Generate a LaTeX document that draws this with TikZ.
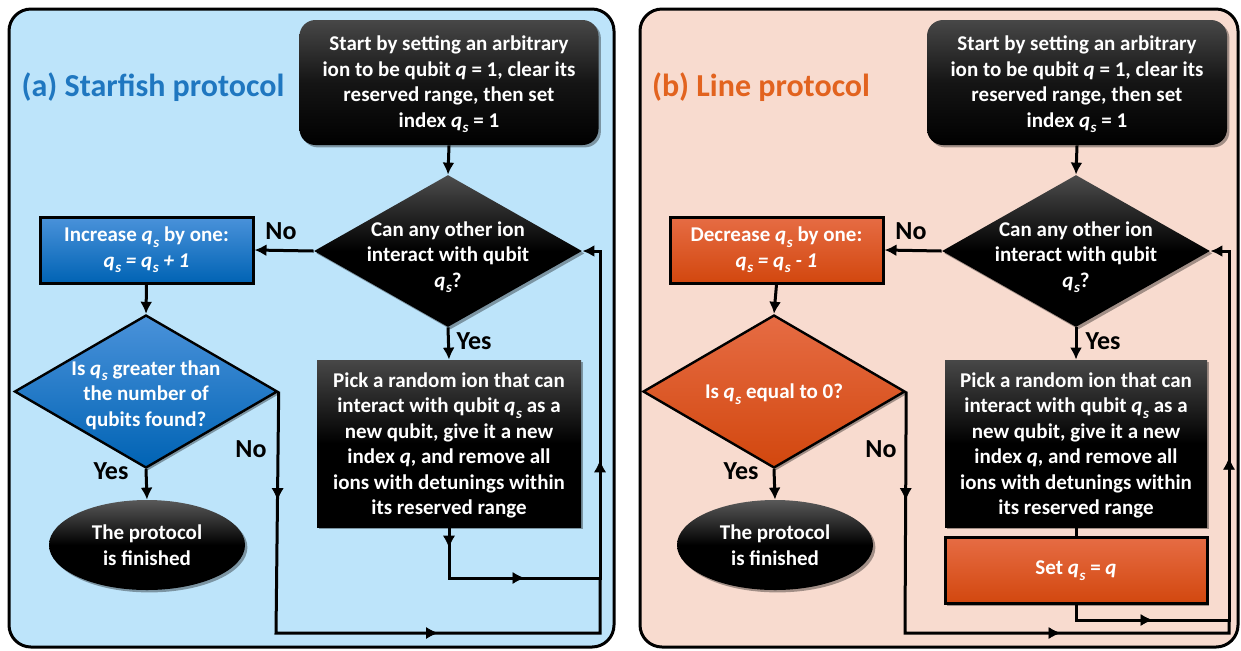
\documentclass[tikz,border=0pt]{standalone}
\usepackage{fontspec}
\setmainfont{Carlito}
\usetikzlibrary{shapes.geometric,arrows.meta,decorations.markings,shadows}
\definecolor{panelblue}{HTML}{BDE4FA}
\definecolor{panelpink}{HTML}{F8DBCF}
\definecolor{titleblue}{HTML}{1F77C0}
\definecolor{titleorange}{HTML}{E2631F}
\definecolor{blueT}{HTML}{4A92DA}
\definecolor{blueB}{HTML}{0063B4}
\definecolor{orT}{HTML}{E66C44}
\definecolor{orB}{HTML}{D2470E}
\newcommand{\qsub}{\textit{q}\kern0.3pt\raisebox{-0.55ex}{\fontsize{7.5}{7.5}\selectfont\textit{s}}}
\begin{document}
\begin{tikzpicture}[x=0.5pt,y=-0.5pt,
  every node/.style={font=\fontsize{10.5}{12.75}\selectfont\bfseries},
  panel/.style={draw=black,line width=1.5pt,rounded corners=11pt},
  shadowed/.style={drop shadow={shadow xshift=1.2pt,shadow yshift=-1.2pt,opacity=0.35,fill=black}},
  blackbox/.style={shadowed,top color=black!72,bottom color=black,middle color=black,text=white,align=center,inner sep=0pt},
  colbox/.style={shadowed,draw=black,line width=1.5pt,text=white,align=center,inner sep=0pt},
  bluefill/.style={top color=blueT,bottom color=blueB},
  orfill/.style={top color=orT,bottom color=orB},
  dia/.style={diamond,inner sep=0pt,shadowed},
  lbl/.style={font=\fontsize{13}{15}\selectfont\bfseries,text=black},
  ttl/.style={font=\fontsize{16}{19}\selectfont\bfseries},
  txt/.style={text=white,align=center,inner sep=0pt},
  conn/.style={draw=black,line width=1.5pt,line join=miter},
  tip/.style={-{Latex[length=6pt,width=6pt]}},
  midarr/.style={decorate,decoration={markings,mark=at position #1 with {\arrow{Latex[length=6pt,width=6pt]}}}}
]
\useasboundingbox (0,0) rectangle (1241,650);
% panels
\draw[panel,fill=panelblue] (9,9) rectangle (614,647);
\draw[panel,fill=panelpink] (640,9) rectangle (1238,647);

% ===== Left panel =====
\node[ttl,text=titleblue] (ta) at (153,87) {(a) Starfish protocol};
\node[blackbox,rounded corners=8pt,minimum width=149.5pt,minimum height=62.5pt,middle color=black!92] (sa) at (449,82.5) {};
\node[txt] (sat) at (449,84.5) {Start by setting an arbitrary\\ion to be qubit \textit{q} = 1, clear its\\reserved range, then set\\index \qsub{} = 1};
\node[dia,minimum width=134pt,minimum height=76pt,top color=black!70,bottom color=black,middle color=black] (da1) at (448,251) {};
\node[txt] (da1t) at (448,257) {Can any other ion\\interact with qubit\\\qsub?};
\node[colbox,bluefill,minimum width=106.5pt,minimum height=33pt] (ia) at (146.5,250) {Increase \qsub{} by one:\\\textit{\qsub{} = \qsub{} + 1}};
\node[dia,draw=black,line width=1.2pt,bluefill,minimum width=131.5pt,minimum height=76.5pt] (da2) at (146,391.5) {};
\node[txt] (da2t) at (146,395) {Is \qsub{} greater than\\the number of\\qubits found?};
\node[ellipse,shadowed,top color=black!65,bottom color=black,middle color=black,minimum width=98pt,minimum height=45pt,inner sep=0pt,text=white,align=center] (ea) at (147,545) {The protocol\\is finished};
\node[blackbox,minimum width=132pt,minimum height=83.5pt] (pa) at (449,443.5) {};
\node[txt] (pat) at (449,445.5) {Pick a random ion that can\\interact with qubit \qsub{} as a\\new qubit, give it a new\\index \textit{q}, and remove all\\ions with detunings within\\its reserved range};
\node[lbl] (na1) at (281,231) {No};
\node[lbl] (ya1) at (474,341) {Yes};
\node[lbl] (ya2) at (111,471) {Yes};
\node[lbl] (na2) at (251,449) {No};
\coordinate (a1) at (449,578);
\coordinate (a2) at (600,578);
\coordinate (a3) at (600,251);
\coordinate (a4) at (276,633);
\coordinate (a5) at (600,633);

\draw[conn,tip] (sa.south) -- (da1.north);
\draw[conn,tip] (da1.west) -- (ia.east);
\draw[conn,tip] (ia.south) -- (da2.north);
\draw[conn,tip] (da2.south) -- (ea.north);
\draw[conn,tip] (da1.south) -- (pa.north);
\draw[conn,tip] (pa.south) -- (a1) -- (a2) -- (a3) -- (da1.east);
\draw[conn] (da2.east) -- (a4) -- (a5) -- (a2);
\path[midarr=0.4] (pa.south) -- (a1);
\path[midarr=0.5] (a1) -- (a2);
\path[midarr=0.36] (a2) -- (a3);
\path[midarr=0.45] (da2.east) -- (a4);
\path[midarr=0.5] (a4) -- (a5);

% ===== Right panel =====
\node[ttl,text=titleorange] (tb) at (761,87) {(b) Line protocol};
\node[blackbox,rounded corners=8pt,minimum width=150pt,minimum height=62.5pt,middle color=black!92] (sb) at (1077,82.5) {};
\node[txt] (sbt) at (1077,84.5) {Start by setting an arbitrary\\ion to be qubit \textit{q} = 1, clear its\\reserved range, then set\\index \qsub{} = 1};
\node[dia,minimum width=134pt,minimum height=76pt,top color=black!70,bottom color=black,middle color=black] (db1) at (1076,251) {};
\node[txt] (db1t) at (1076,257) {Can any other ion\\interact with qubit\\\qsub?};
\node[colbox,orfill,minimum width=106.5pt,minimum height=33pt] (ib) at (776.5,250) {Decrease \qsub{} by one:\\\textit{\qsub{} = \qsub{} - 1}};
\node[dia,draw=black,line width=1.2pt,orfill,minimum width=131pt,minimum height=76.5pt] (db2) at (774,391.5) {};
\node[txt] (db2t) at (774,394) {Is \qsub{} equal to 0?};
\node[ellipse,shadowed,top color=black!65,bottom color=black,middle color=black,minimum width=98pt,minimum height=45pt,inner sep=0pt,text=white,align=center] (eb) at (775,545) {The protocol\\is finished};
\node[blackbox,minimum width=131pt,minimum height=83.5pt] (pb) at (1076,443.5) {};
\node[txt] (pbt) at (1076,445.5) {Pick a random ion that can\\interact with qubit \qsub{} as a\\new qubit, give it a new\\index \textit{q}, and remove all\\ions with detunings within\\its reserved range};
\node[colbox,orfill,minimum width=131pt,minimum height=33pt] (setb) at (1076,570.5) {Set \qsub{} = \textit{q}};
\node[lbl] (nb1) at (911,231) {No};
\node[lbl] (yb1) at (1103,341) {Yes};
\node[lbl] (yb2) at (741,471) {Yes};
\node[lbl] (nb2) at (881,449) {No};
\coordinate (b1) at (1076,620);
\coordinate (b2) at (1229,620);
\coordinate (b3) at (1229,251);
\coordinate (b4) at (905,633);
\coordinate (b5) at (1229,633);

\draw[conn,tip] (sb.south) -- (db1.north);
\draw[conn,tip] (db1.west) -- (ib.east);
\draw[conn,tip] (ib.south) -- (db2.north);
\draw[conn,tip] (db2.south) -- (eb.north);
\draw[conn,tip] (db1.south) -- (pb.north);
\draw[conn] (pb.south) -- (setb.north);
\draw[conn,tip] (setb.south) -- (b1) -- (b2) -- (b3) -- (db1.east);
\draw[conn] (db2.east) -- (b4) -- (b5) -- (b2);
\path[midarr=0.5] (b1) -- (b2);
\path[midarr=0.44] (b2) -- (b3);
\path[midarr=0.45] (db2.east) -- (b4);
\path[midarr=0.48] (b4) -- (b5);
\end{tikzpicture}
\end{document}
